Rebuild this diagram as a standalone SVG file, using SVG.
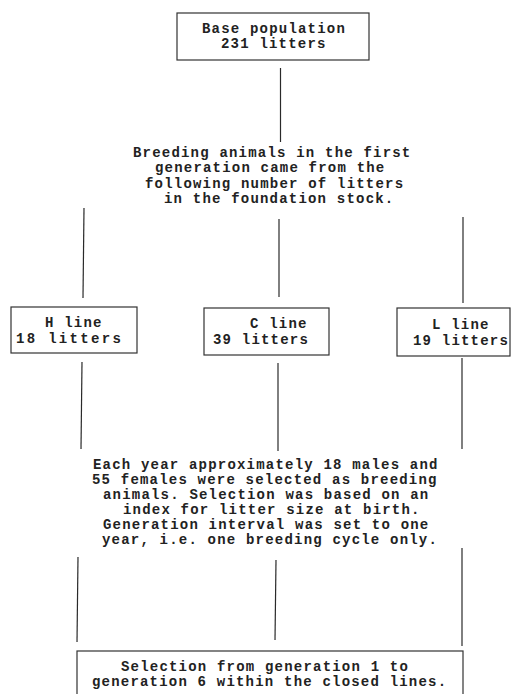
<svg xmlns="http://www.w3.org/2000/svg" width="515" height="694" viewBox="0 0 515 694">
<style>
  .box { fill: #ffffff; stroke: #333333; stroke-width: 1.2; }
  .t { font-family: "Liberation Mono", "Courier New", monospace; font-size: 14px; letter-spacing: 1.2px; font-weight: bold; fill: #222222; }
  .c { stroke: #2a2a2a; stroke-width: 1.2; fill: none; }
</style>
<rect width="515" height="694" fill="#ffffff"/>
<g id="connectors">
  <line class="c" x1="280.5" y1="68" x2="280.5" y2="142"/>
  <line class="c" x1="84" y1="208" x2="83" y2="298"/>
  <line class="c" x1="279" y1="219" x2="279" y2="297"/>
  <line class="c" x1="463" y1="217" x2="463" y2="303"/>
  <line class="c" x1="82" y1="362" x2="81" y2="449"/>
  <line class="c" x1="278" y1="363" x2="278" y2="451"/>
  <line class="c" x1="462" y1="358" x2="462" y2="449"/>
  <line class="c" x1="78" y1="557" x2="77" y2="642"/>
  <line class="c" x1="276" y1="560" x2="275" y2="640"/>
  <line class="c" x1="462" y1="548" x2="462" y2="646"/>
</g>
<g id="base">
  <rect class="box" x="177" y="13" width="192" height="47"/>
  <text class="t" x="202" y="33">Base population</text>
  <text class="t" x="221" y="48">231 litters</text>
</g>
<g id="note1">
  <text class="t" x="133" y="157">Breeding animals in the first</text>
  <text class="t" x="155" y="172">generation came from the</text>
  <text class="t" x="145" y="188">following number of litters</text>
  <text class="t" x="164" y="203">in the foundation stock.</text>
</g>
<g id="hline">
  <rect class="box" x="11" y="307" width="126" height="46"/>
  <text class="t" x="45" y="327">H line</text>
  <text class="t" x="16" y="343" textLength="106" lengthAdjust="spacing">18 litters</text>
</g>
<g id="cline">
  <rect class="box" x="204" y="308" width="125" height="47"/>
  <text class="t" x="250" y="328">C line</text>
  <text class="t" x="213" y="344">39 litters</text>
</g>
<g id="lline">
  <rect class="box" x="397" y="308" width="113" height="48"/>
  <text class="t" x="432" y="329">L line</text>
  <text class="t" x="413" y="345">19 litters</text>
</g>
<g id="note2">
  <text class="t" x="93" y="469">Each year approximately 18 males and</text>
  <text class="t" x="92" y="484">55 females were selected as breeding</text>
  <text class="t" x="103" y="499">animals. Selection was based on an</text>
  <text class="t" x="123" y="514">index for litter size at birth.</text>
  <text class="t" x="103" y="529">Generation interval was set to one</text>
  <text class="t" x="102" y="544">year, i.e. one breeding cycle only.</text>
</g>
<g id="selection">
  <rect class="box" x="77" y="651" width="386" height="60"/>
  <text class="t" x="121" y="671">Selection from generation 1 to</text>
  <text class="t" x="92" y="686">generation 6 within the closed lines.</text>
</g>
</svg>
